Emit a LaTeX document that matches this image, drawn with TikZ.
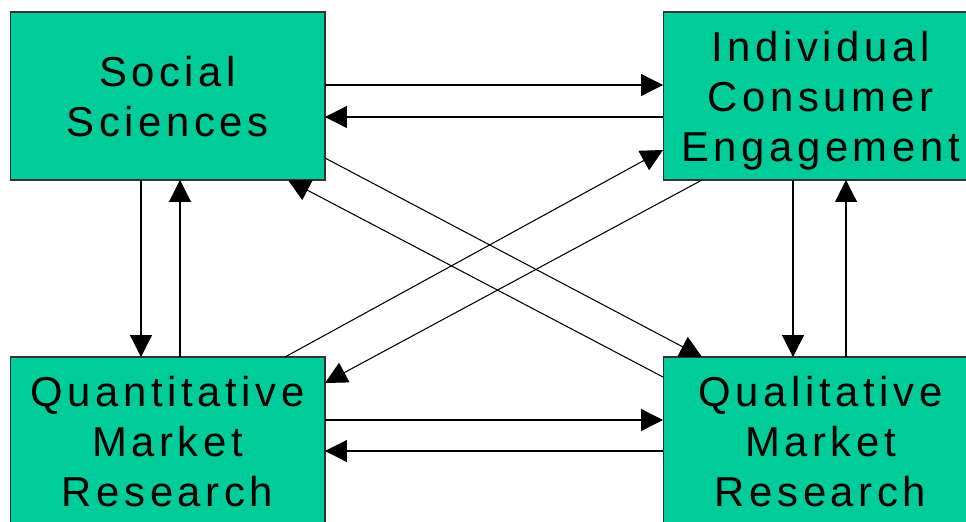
\documentclass[tikz,border=0pt]{standalone}
\usepackage{fontspec}
\usepackage{xcolor}
\usetikzlibrary{positioning,arrows.meta,calc}
\newfontfamily\boxfont{Liberation Sans}[LetterSpace=11]
\definecolor{boxgreen}{HTML}{00CC99}
\definecolor{boxline}{HTML}{333333}

\begin{document}
\begin{tikzpicture}[x=0.02cm,y=-0.02cm,line width=0.6pt,
    area/.style={draw=boxline,fill=boxgreen,minimum width=6.3cm,minimum height=3.36cm,
        inner sep=0pt,outer sep=0pt,align=center,text depth=0pt,
        font=\boxfont\fontsize{23.8}{28.45}\selectfont},
    link/.style={-{Triangle[length=0.44cm,width=0.44cm]}}]
            \useasboundingbox (0,0) rectangle (966,521);
            \node[area] (social) at (167.5,96) {Social\\Sciences};
            \node[area] (consumer) at (820.5,96) {Individual\\Consumer\\Engagement};
            \node[area] (quant) at (167.5,441) {Quantitative\\Market\\Research};
            \node[area] (qual) at (820.5,441) {Qualitative\\Market\\Research};
            % across the top and the bottom
            \draw[link] ($(social.east)+(0,-11)$) -- ($(consumer.west)+(0,-11)$);
            \draw[link] ($(consumer.west)+(0,21)$) -- ($(social.east)+(0,21)$);
            \draw[link] ($(quant.east)+(0,-21)$) -- ($(qual.west)+(0,-21)$);
            \draw[link] ($(qual.west)+(0,10)$) -- ($(quant.east)+(0,10)$);
            % up and down
            \draw[link] ($(social.south)+(-26.5,0)$) -- ($(quant.north)+(-26.5,0)$);
            \draw[link] ($(quant.north)+(12.5,0)$) -- ($(social.south)+(12.5,0)$);
            \draw[link] ($(consumer.south)+(-27.5,0)$) -- ($(qual.north)+(-27.5,0)$);
            \draw[link] ($(qual.north)+(25.5,0)$) -- ($(consumer.south)+(25.5,0)$);
            % diagonals
            \draw[link] ($(social.south east)+(0,-22)$) -- ($(qual.north west)+(39,0)$);
            \draw[link] ($(qual.north west)+(0,20)$) -- ($(social.south east)+(-37,0)$);
            \draw[link] ($(quant.north east)+(-40,0)$) -- ($(consumer.south west)+(0,-30)$);
            \draw[link] ($(consumer.south west)+(39,0)$) -- ($(quant.north east)+(0,26)$);
          \end{tikzpicture}
\end{document}
